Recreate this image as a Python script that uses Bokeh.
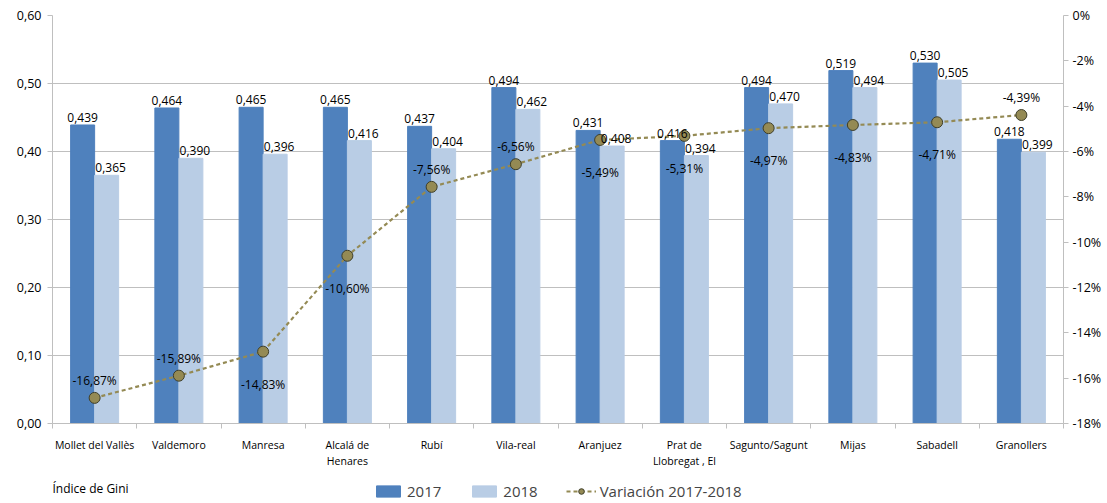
from bokeh.plotting import figure
from bokeh.layouts import column
from bokeh.models import (Range1d, LinearAxis, FixedTicker, CustomJSTickFormatter,
                          ColumnDataSource, Legend, LegendItem, Label, LabelSet)
from bokeh.core.properties import value
from bokeh.embed import file_html
from bokeh.resources import INLINE

categories = ["Mollet del Vallès", "Valdemoro", "Manresa", "Alcalá de\nHenares", "Rubí",
              "Vila-real", "Aranjuez", "Prat de\nLlobregat , El", "Sagunto/Sagunt", "Mijas",
              "Sabadell", "Granollers"]
gini_2017 = [0.439, 0.464, 0.465, 0.465, 0.437, 0.494, 0.431, 0.416, 0.494, 0.519, 0.530, 0.418]
gini_2018 = [0.365, 0.390, 0.396, 0.416, 0.404, 0.462, 0.408, 0.394, 0.470, 0.494, 0.505, 0.399]
variation = [-16.87, -15.89, -14.83, -10.60, -7.56, -6.56, -5.49, -5.31, -4.97, -4.83, -4.71, -4.39]
variation_label_side = ["above", "above", "below", "below", "above", "above",
                        "below", "below", "below", "below", "below", "above"]
left_ticks = [0.0, 0.1, 0.2, 0.3, 0.4, 0.5, 0.6]
right_ticks = [-18, -16, -14, -12, -10, -8, -6, -4, -2, 0]
series_names = ["2017", "2018", "Variación 2017-2018"]
source_note = "Índice de Gini"

C17 = "#4F81BD"
C18 = "#B9CDE5"
CLINE = "#948A54"
GRID = "#BFBFBF"
FONT = "Open Sans"
W = 1106

n = len(categories)
centers = [i + 0.5 for i in range(n)]
bw = 0.285

def fmt(v, d):
    return f"{v:.{d}f}".replace(".", ",")

src = ColumnDataSource(dict(
    c=centers,
    x17=[c - bw / 2 for c in centers],
    x18=[c + bw / 2 for c in centers],
    g17=gini_2017, g18=gini_2018,
    t17=[fmt(v, 3) for v in gini_2017],
    t18=[fmt(v, 3) for v in gini_2018],
    var=variation,
))

p = figure(width=W, height=471, x_range=Range1d(0, n), y_range=Range1d(0, 0.6),
           output_backend="svg", toolbar_location=None,
           min_border_left=52, min_border_right=43, min_border_top=15, min_border_bottom=46)
p.extra_y_ranges = {"var": Range1d(-18, 0)}
p.outline_line_color = None
p.background_fill_color = "white"

# axes
xa = p.xaxis[0]
xa.ticker = FixedTicker(ticks=centers, minor_ticks=list(range(n + 1)))
xa.formatter = CustomJSTickFormatter(args=dict(labels=categories),
                                     code="return labels[Math.round(tick - 0.5)];")
xa.major_tick_line_color = None
xa.minor_tick_line_color = GRID
xa.minor_tick_out = 5
xa.minor_tick_in = 0
xa.axis_line_color = GRID
xa.major_label_text_font = FONT
xa.major_label_text_font_size = "10.5px"
xa.major_label_text_color = "#000000"
xa.major_label_standoff = 8

ya = p.yaxis[0]
ya.ticker = FixedTicker(ticks=left_ticks)
ya.formatter = CustomJSTickFormatter(code="return tick.toFixed(2).replace('.', ',');")
ya.axis_line_color = GRID
ya.major_tick_line_color = GRID
ya.major_tick_out = 5
ya.major_tick_in = 0
ya.minor_tick_line_color = None
ya.major_label_text_font = FONT
ya.major_label_text_font_size = "12.5px"
ya.major_label_text_color = "#000000"
ya.major_label_standoff = 6

ra = LinearAxis(y_range_name="var", ticker=FixedTicker(ticks=right_ticks),
                formatter=CustomJSTickFormatter(code="return tick.toFixed(0) + '%';"))
ra.axis_line_color = GRID
ra.major_tick_line_color = GRID
ra.major_tick_out = 5
ra.major_tick_in = 0
ra.minor_tick_line_color = None
ra.major_label_text_font = FONT
ra.major_label_text_font_size = "12.5px"
ra.major_label_text_color = "#000000"
ra.major_label_standoff = 4
p.add_layout(ra, "right")

p.xgrid.visible = False
p.ygrid.ticker = FixedTicker(ticks=left_ticks)
p.ygrid.grid_line_color = GRID

# bars
p.vbar(x="x17", top="g17", width=bw, bottom=0, source=src, fill_color=C17, line_color=C17)
p.vbar(x="x18", top="g18", width=bw, bottom=0, source=src, fill_color=C18, line_color=C18)

# line
p.line(x="c", y="var", source=src, y_range_name="var", line_color=CLINE,
       line_width=2.2, line_dash="4 3")
p.scatter(x="c", y="var", source=src, y_range_name="var", size=11,
          fill_color=CLINE, line_color="#3F3F2A", line_width=1)

# labels
p.add_layout(LabelSet(x="x17", y="g17", text="t17", source=src, text_align="center",
                      text_baseline="bottom", y_offset=3, text_font=value(FONT),
                      text_font_size="12px", text_color="#000000"))
p.add_layout(LabelSet(x="x18", y="g18", text="t18", source=src, text_align="center",
                      text_baseline="bottom", y_offset=3, x_offset=4, text_font=value(FONT),
                      text_font_size="12px", text_color="#000000"))

above = [i for i, s in enumerate(variation_label_side) if s == "above"]
below = [i for i, s in enumerate(variation_label_side) if s == "below"]
for idx, base, off in ((above, "bottom", 9), (below, "top", -24)):
    s = ColumnDataSource(dict(
        c=[centers[i] for i in idx],
        v=[variation[i] for i in idx],
        t=[fmt(variation[i], 2) + "%" for i in idx],
    ))
    p.add_layout(LabelSet(x="c", y="v", text="t", source=s, y_range_name="var",
                          text_align="center", text_baseline=base, y_offset=off,
                          text_font=value(FONT), text_font_size="12px",
                          text_color="#000000"))

# legend strip below the chart (its renderers reuse the data, which lies outside
# this strip's ranges, so only the legend glyphs show)
H2 = 31
p2 = figure(width=W, height=H2, x_range=Range1d(0, W), y_range=Range1d(100, 100 + H2),
            output_backend="svg", toolbar_location=None, min_border=0,
            x_axis_location=None, y_axis_location=None)
p2.grid.visible = False
p2.outline_line_color = None
l17 = p2.vbar(x="x17", top="g17", width=bw, bottom=0, source=src, fill_color=C17, line_color=C17)
l18 = p2.vbar(x="x18", top="g18", width=bw, bottom=0, source=src, fill_color=C18, line_color=C18)
ll = p2.line(x="c", y="var", source=src, line_color=CLINE, line_width=2.2, line_dash="4 3")
ls = p2.scatter(x="c", y="var", source=src, size=11, fill_color=CLINE,
                line_color="#3F3F2A", line_width=1)
legend = Legend(items=[LegendItem(label=series_names[0], renderers=[l17]),
                       LegendItem(label=series_names[1], renderers=[l18]),
                       LegendItem(label=series_names[2], renderers=[ll, ls])],
                orientation="horizontal", location=(321, 1), border_line_color=None,
                background_fill_alpha=0, label_text_font=FONT, label_text_font_size="15px",
                glyph_width=30, glyph_height=14, spacing=28, padding=2, margin=0,
                label_standoff=4)
p2.add_layout(legend, "center")
p2.add_layout(Label(x=0, y=114, text=source_note, text_font=FONT,
                    text_font_size="12px", text_baseline="middle", text_align="left",
                    text_color="#000000"))

open("out.html", "w").write(file_html(column(p, p2, spacing=0), INLINE))
